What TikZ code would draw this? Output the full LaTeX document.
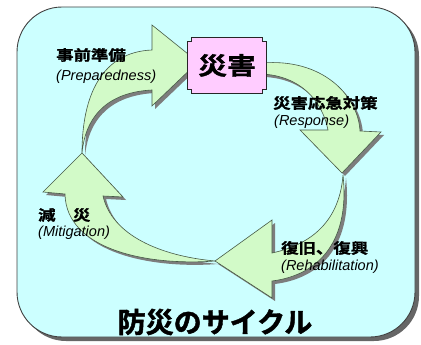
\documentclass[tikz,border=0pt]{standalone}
\usepackage{fontspec}
\newfontfamily\jp{Noto Sans CJK JP}[BoldFont={Noto Sans CJK JP Bold},BoldFeatures={FakeBold=1.6}]
\newfontfamily\jpw{Noto Sans CJK JP}[BoldFont={Noto Sans CJK JP Bold},BoldFeatures={FakeStretch=1.2,FakeBold=1.4},FakeStretch=1.2]
\newfontfamily\en{Liberation Sans}
\definecolor{bgc}{RGB}{204,255,255}
\definecolor{arrc}{RGB}{210,250,200}
\definecolor{pinkc}{RGB}{255,204,255}
\definecolor{edgec}{RGB}{70,90,70}
\definecolor{shadc}{RGB}{125,125,125}
\pgfdeclarelayer{back}
\pgfdeclarelayer{mid}
\pgfsetlayers{back,mid,main}
\tikzset{
  bgbox/.style={fill=bgc,draw=black!75,line width=0.9pt,rounded corners=45pt},
  bgshadow/.style={fill=black!60,rounded corners=45pt},
  arrowfill/.style={fill=arrc,draw=edgec,line width=0.6pt,line join=miter},
  arrowshadow/.style={fill=shadc,shift={(3,3)}},
  boxsty/.style={fill=pinkc,draw=black!85,line width=1.2pt},
  jplabel/.style={anchor=west,inner sep=0pt,font=\jpw\bfseries\fontsize{14.5}{16}\selectfont},
  enlabel/.style={anchor=west,inner sep=0pt,font=\en\itshape\fontsize{14.5}{16}\selectfont}
}
\newcommand\arrowPrep[1]{\path[#1] (82,153) .. controls (82,95) and (102,52) .. (152,50)
  -- (152,25) -- (198,62) -- (152,106) -- (152,90)
  .. controls (112,92) and (86,112) .. (82,153) -- cycle;}
\newcommand\arrowResp[1]{\path[#1] (262,63) .. controls (322,58) and (358,95) .. (360,131)
  -- (381,132) -- (342,173) -- (300,130) -- (328,130)
  .. controls (322,100) and (300,76) .. (262,74) -- cycle;}
\newcommand\arrowReha[1]{\path[#1] (343,175) .. controls (350,240) and (320,275) .. (272,281)
  -- (272,298) -- (215,261) -- (272,220) -- (272,253)
  .. controls (318,243) and (340,215) .. (343,175) -- cycle;}
\newcommand\arrowMiti[1]{\path[#1] (82,153) -- (123,197) -- (103,196)
  .. controls (112,235) and (160,256) .. (215,261)
  .. controls (148,266) and (66,250) .. (65,194) -- (43,192) -- cycle;}
\begin{document}
\begin{tikzpicture}[x=1pt,y=-1pt]
\useasboundingbox (0,0) rectangle (421,345);
\begin{pgfonlayer}{back}
  \path[bgshadow] (21,11) rectangle (419,341);
  \path[bgbox] (17,7) rectangle (415,337);
  \arrowPrep{arrowshadow}
  \arrowResp{arrowshadow}
  \arrowReha{arrowshadow}
  \arrowMiti{arrowshadow}
  \arrowMiti{arrowfill}
  \arrowReha{arrowfill}
  \arrowResp{arrowfill}
  \arrowPrep{arrowfill}
\end{pgfonlayer}
\node[minimum width=78pt,minimum height=55pt,inner sep=0pt,
  font=\jpw\bfseries\fontsize{24}{26}\selectfont] (box) at (227,65.5) {災害};
\begin{pgfonlayer}{mid}
  \draw[boxsty] ([xshift=4pt]box.north west) -- ([xshift=-4pt]box.north east)
    -- ++(0,4) -- ++(4,0) -- ([yshift=4pt]box.south east) -- ++(-4,0) -- ++(0,4)
    -- ([xshift=4pt]box.south west) -- ++(0,-4) -- ++(-4,0)
    -- ([yshift=-4pt]box.north west) -- ++(4,0) -- cycle;
\end{pgfonlayer}
\node[jplabel] (prepJ) at (56,55) {事前準備};
\node[enlabel] (prepE) at (56,77) {(Preparedness)};
\node[jplabel] (respJ) at (273,103) {災害応急対策};
\node[enlabel] (respE) at (274,122) {(Response)};
\node[jplabel] (mitiJ) at (38,215) {減　災};
\node[enlabel] (mitiE) at (38,233) {(Mitigation)};
\node[jplabel] (rehaJ) at (281,248) {復旧、復興};
\node[enlabel] (rehaE) at (281,267) {(Rehabilitation)};
\node[inner sep=0pt,font=\jp\bfseries\fontsize{28}{30}\selectfont] (title) at (215,322) {防災のサイクル};
\end{tikzpicture}
\end{document}
